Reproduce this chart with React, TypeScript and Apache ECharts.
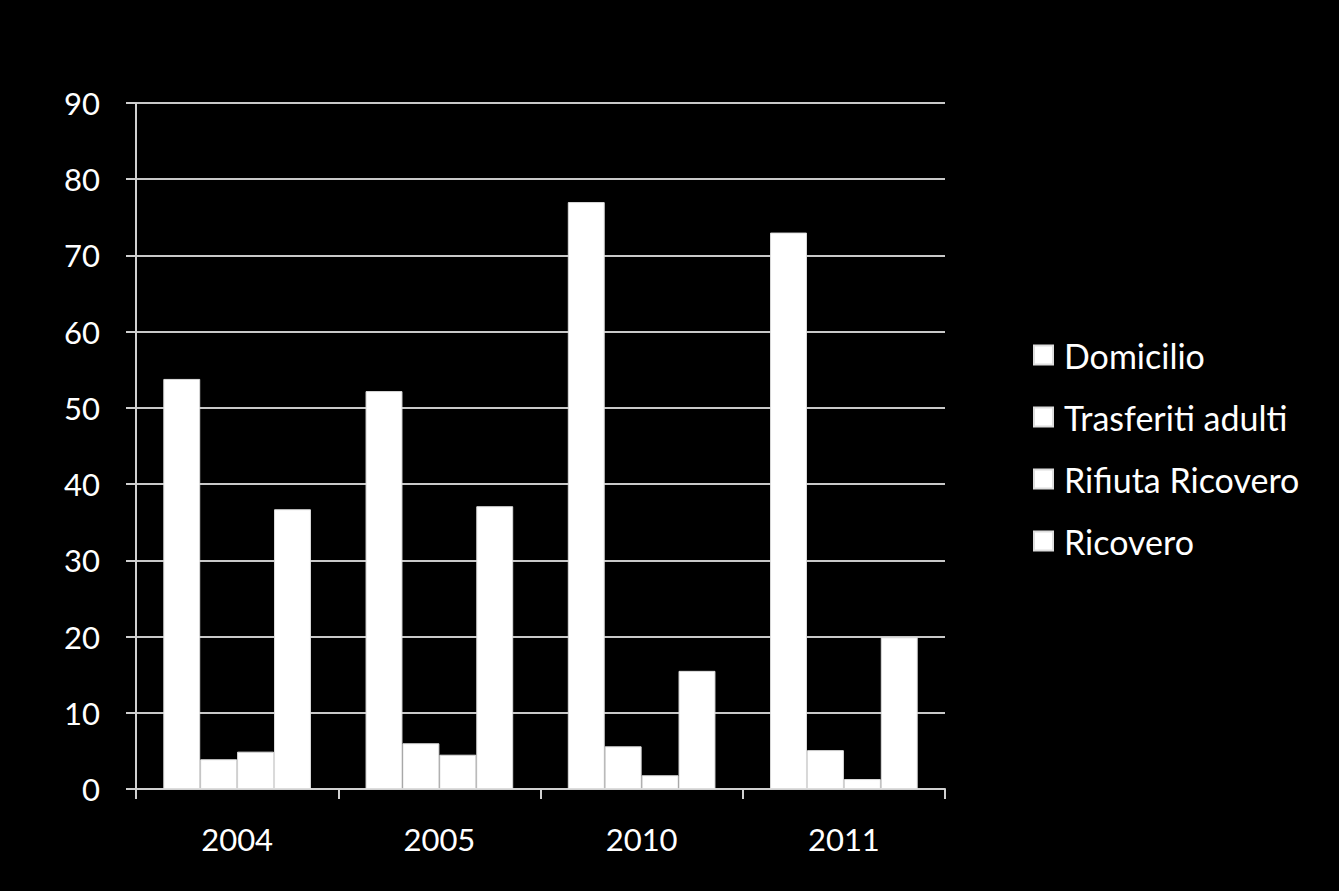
import React, { useEffect, useRef } from "react";
import * as echarts from "echarts";

const categories = ["2004", "2005", "2010", "2011"];
const seriesNames = ["Domicilio", "Trasferiti adulti", "Rifiuta Ricovero", "Ricovero"];
const domicilio = [53.8, 52.2, 77.0, 73.0];
const trasferiti = [3.9, 6.0, 5.6, 5.1];
const rifiuta = [4.9, 4.5, 1.8, 1.3];
const ricovero = [36.7, 37.1, 15.5, 19.9];
const yTicks = [0, 10, 20, 30, 40, 50, 60, 70, 80, 90];

const FONT = "Lato, 'Open Sans', sans-serif";

export default function App() {
  const ref = useRef<HTMLDivElement>(null);
  useEffect(() => {
    if (!ref.current) return;
    const chart = echarts.init(ref.current, null, { renderer: "svg" });
    const values = [domicilio, trasferiti, rifiuta, ricovero];
    chart.setOption({
      animation: false,
      backgroundColor: "#000000",
      textStyle: { fontFamily: FONT },
      grid: { left: 136, right: 394, top: 103, bottom: 102, containLabel: false },
      legend: {
        orient: "vertical",
        left: 1033,
        top: 338,
        padding: 0,
        itemWidth: 19,
        itemHeight: 19,
        itemGap: 28,
        icon: "rect",
        textStyle: { color: "#ffffff", fontSize: 34, lineHeight: 34, fontFamily: FONT, padding: [0, 0, 0, 6] },
        data: seriesNames,
      },
      xAxis: {
        type: "category",
        data: categories,
        axisLine: { lineStyle: { color: "#d0d0d0", width: 2 } },
        axisTick: { show: true, length: 10, lineStyle: { color: "#d0d0d0", width: 2 } },
        axisLabel: { color: "#ffffff", fontSize: 31, margin: 34, fontFamily: FONT },
      },
      yAxis: {
        type: "value",
        min: yTicks[0],
        max: yTicks[yTicks.length - 1],
        interval: 10,
        axisLine: { show: true, lineStyle: { color: "#d0d0d0", width: 2 } },
        axisTick: { show: true, length: 10, lineStyle: { color: "#d0d0d0", width: 2 } },
        axisLabel: { color: "#ffffff", fontSize: 31, margin: 36, fontFamily: FONT },
        splitLine: { lineStyle: { color: "#c8c8c8", width: 2 } },
      },
      series: seriesNames.map((name, i) => ({
        name,
        type: "bar",
        data: values[i],
        barGap: "0%",
        barCategoryGap: "27%",
        itemStyle: { color: "#ffffff", borderColor: "#dddddd", borderWidth: 1 },
      })),
    });
    return () => chart.dispose();
  }, []);
  return <div ref={ref} style={{ width: 1339, height: 891, position: "absolute", left: 0, top: 0 }} />;
}
